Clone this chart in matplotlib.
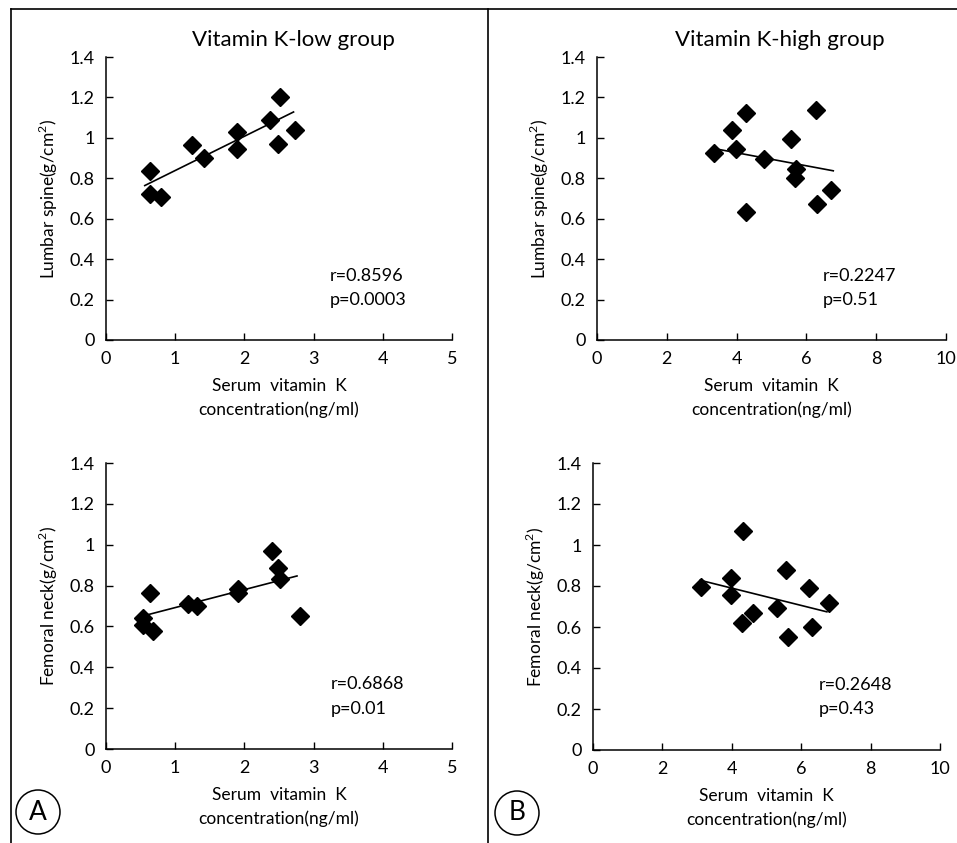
import matplotlib
matplotlib.use("Agg")
import matplotlib.pyplot as plt
from matplotlib.lines import Line2D
from matplotlib.patches import Circle

# ── data ──
low_x_lumbar = [0.63, 0.63, 0.80, 1.24, 1.41, 1.89, 1.89, 2.37, 2.52, 2.49, 2.73]
low_y_lumbar = [0.834, 0.721, 0.705, 0.966, 0.900, 1.027, 0.946, 1.090, 1.200, 0.971, 1.040]
low_fit_lumbar_x = [0.56, 2.71]
low_fit_lumbar_y = [0.764, 1.128]

high_x_lumbar = [3.36, 3.86, 4.26, 3.98, 4.79, 5.55, 5.69, 5.67, 6.27, 6.30, 6.70, 4.28]
high_y_lumbar = [0.923, 1.038, 1.124, 0.947, 0.895, 0.992, 0.848, 0.799, 1.140, 0.675, 0.741, 0.631]
high_fit_lumbar_x = [3.36, 6.77]
high_fit_lumbar_y = [0.947, 0.837]

low_x_neck = [0.53, 0.53, 0.63, 0.68, 1.18, 1.32, 1.91, 1.91, 2.40, 2.49, 2.52, 2.81]
low_y_neck = [0.640, 0.607, 0.762, 0.580, 0.708, 0.700, 0.782, 0.762, 0.969, 0.888, 0.831, 0.651]
low_fit_neck_x = [0.44, 2.76]
low_fit_neck_y = [0.643, 0.847]

high_x_neck = [3.11, 3.97, 3.97, 4.31, 4.29, 4.60, 5.30, 5.57, 5.61, 6.23, 6.32, 6.79]
high_y_neck = [0.796, 0.839, 0.755, 1.067, 0.619, 0.666, 0.694, 0.880, 0.549, 0.791, 0.601, 0.715]
high_fit_neck_x = [3.09, 6.74]
high_fit_neck_y = [0.828, 0.674]

stats = {
    "tl": ("r=0.8596", "p=0.0003"),
    "tr": ("r=0.2247", "p=0.51"),
    "bl": ("r=0.6868", "p=0.01"),
    "br": ("r=0.2648", "p=0.43"),
}
y_ticks = [0, 0.2, 0.4, 0.6, 0.8, 1.0, 1.2, 1.4]
y_ticklabels = ["0", "0.2", "0.4", "0.6", "0.8", "1", "1.2", "1.4"]
low_xticks = [0, 1, 2, 3, 4, 5]
high_xticks = [0, 2, 4, 6, 8, 10]

FONT = ["Lato", "DejaVu Sans"]
plt.rcParams.update({"font.family": FONT, "font.size": 11, "mathtext.fontset": "custom",
                     "mathtext.rm": "Lato"})

W, H = 957, 843
fig = plt.figure(figsize=(W / 100, H / 100), dpi=100)


def px_axes(x0, x1, ytop, ybot):
    return fig.add_axes([x0 / W, 1 - ybot / H, (x1 - x0) / W, (ybot - ytop) / H])


def panel(ax, xs, ys, fx, fy, xmax, xticks, ylabel, st, tx):
    ax.plot(fx, fy, color="black", lw=1.2, zorder=2)
    ax.plot(xs, ys, ls="none", marker="D", ms=9, color="black", zorder=3)
    ax.set_xlim(0, xmax)
    ax.set_ylim(0, 1.4)
    ax.set_xticks(xticks)
    ax.set_yticks(y_ticks)
    ax.set_yticklabels(y_ticklabels)
    for s in ("top", "right"):
        ax.spines[s].set_visible(False)
    for s in ("left", "bottom"):
        ax.spines[s].set_linewidth(1.1)
    ax.tick_params(direction="in", length=5, width=1, labelsize=13, pad=8)
    ax.set_ylabel(ylabel, fontsize=12.5, labelpad=7)
    ax.set_xlabel("Serum  vitamin  K\nconcentration(ng/ml)", fontsize=12.5,
                  labelpad=8, linespacing=1.55)
    ax.text(tx, 0.317, st[0], fontsize=13, va="center", ha="left")
    ax.text(tx, 0.198, st[1], fontsize=13, va="center", ha="left")


ax1 = px_axes(106, 452, 57, 340)
panel(ax1, low_x_lumbar, low_y_lumbar, low_fit_lumbar_x, low_fit_lumbar_y,
      5, low_xticks, "Lumbar spine(g/cm$^2$)", stats["tl"], 3.24)
ax2 = px_axes(597, 946, 57, 340)
panel(ax2, high_x_lumbar, high_y_lumbar, high_fit_lumbar_x, high_fit_lumbar_y,
      10, high_xticks, "Lumbar spine(g/cm$^2$)", stats["tr"], 6.48)
ax3 = px_axes(106, 452, 463, 749)
panel(ax3, low_x_neck, low_y_neck, low_fit_neck_x, low_fit_neck_y,
      5, low_xticks, "Femoral neck(g/cm$^2$)", stats["bl"], 3.25)
ax4 = px_axes(593, 940, 463, 750)
panel(ax4, high_x_neck, high_y_neck, high_fit_neck_x, high_fit_neck_y,
      10, high_xticks, "Femoral neck(g/cm$^2$)", stats["br"], 6.51)

fig.text(293 / W, 1 - 40 / H, "Vitamin K-low group", fontsize=16, ha="center", va="center")
fig.text(780 / W, 1 - 40 / H, "Vitamin K-high group", fontsize=16, ha="center", va="center")

# outer frame and divider
fig.add_artist(Line2D([11 / W, 1.0], [1 - 9 / H, 1 - 9 / H], transform=fig.transFigure, color="black", lw=1.2))
fig.add_artist(Line2D([11 / W, 11 / W], [0, 1 - 9 / H], transform=fig.transFigure, color="black", lw=1.2))
fig.add_artist(Line2D([488 / W, 488 / W], [0, 1 - 9 / H], transform=fig.transFigure, color="black", lw=1.2))

# panel letters
for cx, cy, lab in [(38, 812, "A"), (517, 813, "B")]:
    fig.add_artist(Circle((cx, H - cy), 22, transform=None, fill=False, ec="black", lw=1.1))
    fig.text(cx / W, 1 - cy / H, lab, fontsize=19, ha="center", va="center")

fig.savefig("out.png", dpi=100, facecolor="white")
